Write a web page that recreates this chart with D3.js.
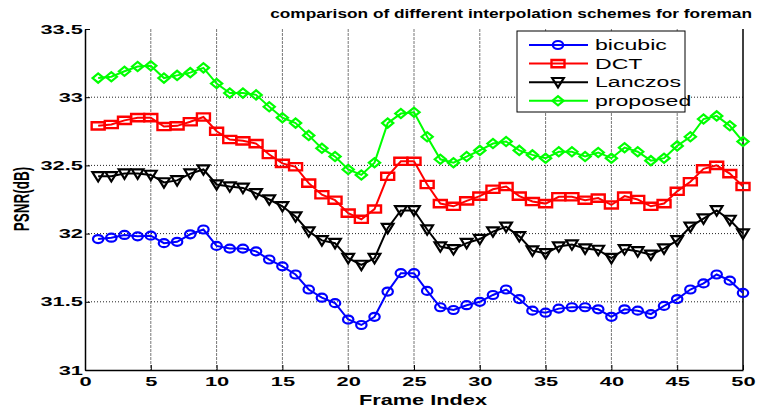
<!DOCTYPE html>
<html><head><meta charset="utf-8">
<script src="https://cdn.jsdelivr.net/npm/d3@7"></script>
<style>body{margin:0;background:#fff}svg{display:block}</style>
</head><body>
<svg id="c" width="759" height="409"></svg>
<script>
const frames = d3.range(1, 51);
const bicubic = [31.96,31.97,31.99,31.98,31.985,31.93,31.94,31.995,32.03,31.91,31.89,31.89,31.87,31.81,31.76,31.70,31.59,31.53,31.49,31.37,31.33,31.39,31.575,31.71,31.71,31.58,31.46,31.44,31.475,31.50,31.55,31.59,31.52,31.435,31.42,31.45,31.46,31.46,31.445,31.39,31.445,31.435,31.41,31.47,31.52,31.59,31.635,31.70,31.655,31.565];
const dct = [32.79,32.80,32.83,32.85,32.85,32.785,32.79,32.82,32.855,32.75,32.69,32.68,32.66,32.58,32.515,32.49,32.37,32.285,32.245,32.15,32.105,32.18,32.42,32.53,32.53,32.36,32.22,32.20,32.24,32.275,32.325,32.345,32.275,32.235,32.22,32.27,32.27,32.245,32.26,32.21,32.275,32.25,32.20,32.22,32.31,32.38,32.475,32.50,32.44,32.345];
const lanczos = [32.42,32.42,32.44,32.44,32.43,32.375,32.39,32.44,32.47,32.36,32.345,32.335,32.295,32.25,32.20,32.125,32.015,31.95,31.93,31.82,31.77,31.82,32.04,32.17,32.17,32.03,31.905,31.885,31.93,31.96,32.015,32.05,31.98,31.875,31.855,31.905,31.92,31.89,31.88,31.82,31.885,31.87,31.845,31.89,31.95,32.05,32.11,32.17,32.10,32.0];
const proposed = [33.14,33.15,33.19,33.225,33.23,33.14,33.16,33.18,33.215,33.10,33.03,33.03,33.017,32.93,32.85,32.81,32.72,32.625,32.565,32.47,32.43,32.52,32.81,32.88,32.89,32.71,32.545,32.52,32.565,32.61,32.66,32.675,32.61,32.577,32.553,32.60,32.60,32.565,32.595,32.553,32.63,32.60,32.535,32.553,32.643,32.71,32.84,32.863,32.79,32.675];
const seriesNames = ["bicubic","DCT","Lanczos","proposed"];
const seriesColors = ["#0000ff","#ff0000","#000000","#00ff00"];
const xTicks = [0,5,10,15,20,25,30,35,40,45,50];
const yTicks = [31,31.5,32,32.5,33,33.5];
const titleText = "comparison of different interpolation schemes for foreman";
const xLabel = "Frame Index";
const yLabel = "PSNR(dB)";

const svg = d3.select("#c");
const L = 85, R = 743, T = 29, B = 370;
const x = d3.scaleLinear().domain([0,50]).range([L,R]);
const y = d3.scaleLinear().domain([31,33.5]).range([B,T]);
const font = "'Liberation Sans', Arial, sans-serif";

// grid
const g = svg.append("g");
g.selectAll("line.vg").data(xTicks.slice(1,-1)).join("line")
  .attr("x1", d=>x(d)).attr("x2", d=>x(d)).attr("y1", T).attr("y2", B)
  .attr("stroke", "#777").attr("stroke-width", 1).attr("stroke-dasharray", "3,1");
g.selectAll("line.hg").data(yTicks.slice(1,-1)).join("line")
  .attr("x1", L).attr("x2", R).attr("y1", d=>y(d)).attr("y2", d=>y(d))
  .attr("stroke", "#222").attr("stroke-width", 1).attr("stroke-dasharray", "1,2");

// axes
const xa = svg.append("g").attr("transform", `translate(0,${B})`)
  .call(d3.axisBottom(x).tickValues(xTicks).tickSizeInner(-5).tickSizeOuter(0).tickPadding(7).tickFormat(d3.format("d")));
const ya = svg.append("g").attr("transform", `translate(${L},0)`)
  .call(d3.axisLeft(y).tickValues(yTicks).tickSizeInner(-5).tickSizeOuter(0).tickPadding(2).tickFormat(d=>String(d)));
[xa, ya].forEach(a => {
  a.select(".domain").attr("stroke", "#000").attr("stroke-width", 1.5);
  a.selectAll(".tick line").attr("stroke", "#000");
  a.selectAll("text").attr("font-family", font).attr("font-weight", "bold").attr("font-size", 12.5).attr("fill", "#000")
    .each(function(){ const t = d3.select(this); const tx = +t.attr("x") || 0;
      t.attr("x", 0).attr("transform", `translate(${tx},0) scale(1.75,1)`); });
});
// right border
svg.append("line").attr("x1", R).attr("x2", R).attr("y1", T).attr("y2", B).attr("stroke", "#000").attr("stroke-width", 1.5);

// marker shapes (wide, as in the stretched original)
function shapePath(k) {
  if (k === 0) { const rx = 5.2, ry = 4; return `M${-rx},0A${rx},${ry} 0 1,0 ${rx},0A${rx},${ry} 0 1,0 ${-rx},0Z`; }
  if (k === 1) { const w = 6.5, h = 3.6; return `M${-w},${-h}H${w}V${h}H${-w}Z`; }
  if (k === 2) { const w = 5.8, h = 4.2; return `M${-w},${-h}H${w}L0,${h + 1}Z`; }
  const w = 5.6, h = 4.6; return `M${-w},0L0,${-h}L${w},0L0,${h}Z`;
}
function marker(sel, k) {
  sel.attr("d", shapePath(k)).attr("fill", "none").attr("stroke", seriesColors[k])
    .attr("stroke-width", k === 1 ? 2.4 : 2.2);
}

// series
const data = [bicubic, dct, lanczos, proposed];
const line = d3.line().x((d,i)=>x(frames[i])).y(d=>y(d));
data.forEach((vals, k) => {
  const sg = svg.append("g");
  sg.append("path").datum(vals).attr("d", line).attr("fill", "none")
    .attr("stroke", seriesColors[k]).attr("stroke-width", 2);
  sg.selectAll("path.m").data(vals).join("path").attr("class","m")
    .attr("transform", (d,i)=>`translate(${x(frames[i])},${y(d)})`)
    .call(marker, k);
});

// legend
const lg = svg.append("g");
lg.append("rect").attr("x", 517).attr("y", 31).attr("width", 168).attr("height", 81)
  .attr("fill", "#fff").attr("stroke", "#000").attr("stroke-width", 1);
seriesNames.forEach((n, k) => {
  const ly = 45 + k*18.6;
  lg.append("line").attr("x1", 529).attr("x2", 588).attr("y1", ly).attr("y2", ly)
    .attr("stroke", seriesColors[k]).attr("stroke-width", 2);
  lg.append("path").attr("transform", `translate(558,${ly})`).call(marker, k);
  lg.append("text").attr("transform", `translate(595,${ly+5}) scale(1.65,1)`).text(n)
    .attr("font-family", font).attr("font-size", 14).attr("fill", "#000");
});

// labels
svg.append("text").attr("transform", "translate(752,18) scale(1.33,1)").attr("text-anchor", "end").text(titleText)
  .attr("font-family", font).attr("font-weight", "bold").attr("font-size", 13).attr("fill", "#000");
svg.append("text").attr("transform", "translate(423,405) scale(1.45,1)").attr("text-anchor", "middle").text(xLabel)
  .attr("font-family", font).attr("font-weight", "bold").attr("font-size", 15).attr("fill", "#000");
svg.append("text").attr("transform", "translate(29,199) rotate(-90) scale(1,1.6)").attr("text-anchor", "middle").text(yLabel)
  .attr("font-family", font).attr("font-weight", "bold").attr("font-size", 13.5).attr("fill", "#000");
</script>
</body></html>
